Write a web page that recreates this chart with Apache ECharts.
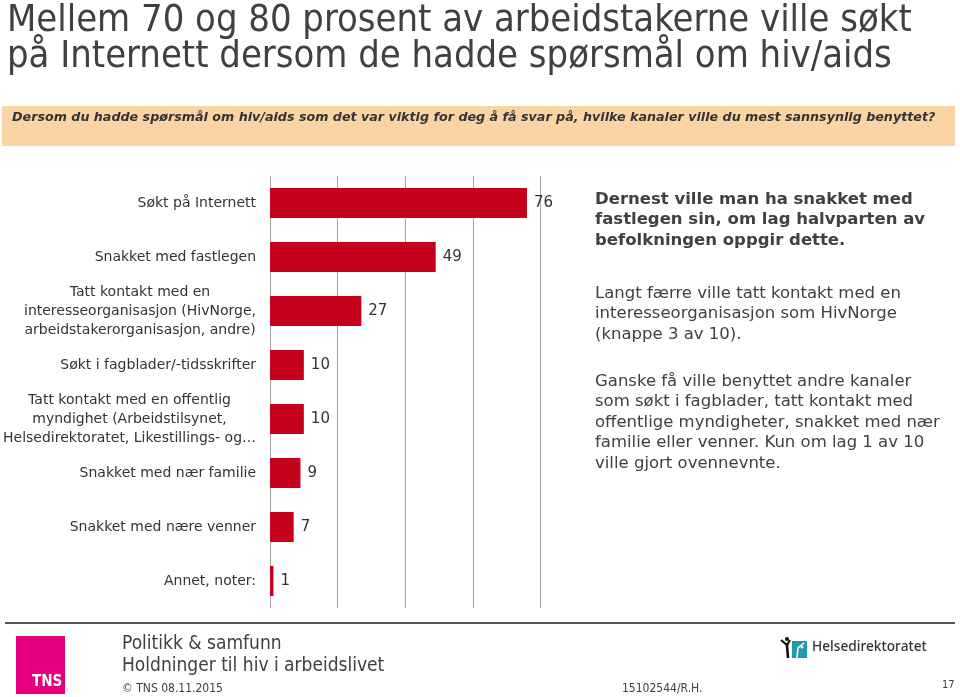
<!DOCTYPE html>
<html><head><meta charset="utf-8">
<script src="https://cdn.jsdelivr.net/npm/echarts@6/dist/echarts.min.js"></script>
<style>html,body{margin:0;padding:0;background:#fff}#c{width:960px;height:697px}</style>
</head><body><div id="c"></div>
<script>
var titleLines = ['Mellem 70 og 80 prosent av arbeidstakerne ville søkt', 'på Internett dersom de hadde spørsmål om hiv/aids'];
var question = 'Dersom du hadde spørsmål om hiv/aids som det var viktig for deg å få svar på, hvilke kanaler ville du mest sannsynlig benyttet?';
var categories = [
  'Søkt på Internett',
  'Snakket med fastlegen',
  'Tatt kontakt med en\ninteresseorganisasjon (HivNorge,\narbeidstakerorganisasjon, andre)',
  'Søkt i fagblader/-tidsskrifter',
  'Tatt kontakt med en offentlig\nmyndighet (Arbeidstilsynet,\nHelsedirektoratet, Likestillings- og…',
  'Snakket med nær familie',
  'Snakket med nære venner',
  'Annet, noter:'
];
var values = [76, 49, 27, 10, 10, 9, 7, 1];
var xTicks = [0, 20, 40, 60, 80];
var para1 = ['Dernest ville man ha snakket med', 'fastlegen sin, om lag halvparten av', 'befolkningen oppgir dette.'];
var para2 = ['Langt færre ville tatt kontakt med en', 'interesseorganisasjon som HivNorge', '(knappe 3 av 10).'];
var para3 = ['Ganske få ville benyttet andre kanaler', 'som søkt i fagblader, tatt kontakt med', 'offentlige myndigheter, snakket med nær', 'familie eller venner. Kun om lag 1 av 10', 'ville gjort ovennevnte.'];
var footer1 = 'Politikk & samfunn';
var footer2 = 'Holdninger til hiv i arbeidslivet';
var footerDate = '© TNS 08.11.2015';
var footerRef = '15102544/R.H.';
var pageNo = '17';
var logoText = 'Helsedirektoratet';

var F = '"DejaVu Sans", Verdana, sans-serif';
var FC = '"DejaVu Sans Condensed", "DejaVu Sans", sans-serif';

function textLines(lines, x, y0, dy, style) {
  return lines.map(function (t, i) {
    return { type: 'text', left: x, top: y0 + i * dy, style: Object.assign({ text: t, fill: '#404040' }, style) };
  });
}

var graphics = [];
graphics = graphics.concat(textLines(titleLines, 7, 2, 36.5, { font: '37.8px ' + FC, fill: '#404040' }));
graphics.push({ type: 'rect', shape: { x: 2, y: 106, width: 953, height: 40 }, style: { fill: '#FBD4A6' } });
graphics.push({ type: 'text', left: 12, top: 111, style: { text: question, font: 'italic bold 12.7px ' + F, fill: '#333' } });
graphics = graphics.concat(textLines(para1, 595, 191, 20.5, { font: 'bold 16.5px ' + F }));
graphics = graphics.concat(textLines(para2, 595, 285, 20.5, { font: '16.5px ' + F }));
graphics = graphics.concat(textLines(para3, 595, 373, 20.5, { font: '16.5px ' + F }));
graphics.push({ type: 'rect', shape: { x: 5, y: 622, width: 950, height: 2 }, style: { fill: '#555' } });
graphics.push({ type: 'rect', shape: { x: 16, y: 636, width: 49, height: 58 }, style: { fill: '#E5007E' } });
graphics.push({ type: 'text', left: 32, top: 675, style: { text: 'TNS', font: 'bold 15px ' + FC, fill: '#fff' } });
graphics.push({ type: 'text', left: 122, top: 635, style: { text: footer1, font: '19px ' + FC, fill: '#404040' } });
graphics.push({ type: 'text', left: 122, top: 657, style: { text: footer2, font: '19px ' + FC, fill: '#404040' } });
graphics.push({ type: 'text', left: 122, top: 683, style: { text: footerDate, font: '12px ' + FC, fill: '#404040' } });
graphics.push({ type: 'text', left: 622, top: 683, style: { text: footerRef, font: '12px ' + FC, fill: '#404040' } });
graphics.push({ type: 'text', left: 942, top: 680, style: { text: pageNo, font: '11px ' + FC, fill: '#404040' } });
// Helsedirektoratet logo
graphics.push({ type: 'rect', shape: { x: 792, y: 641, width: 15, height: 17 }, style: { fill: '#1C9BA8' } });
graphics.push({ type: 'polyline', shape: { points: [[781, 640], [787, 645], [790, 640]] }, style: { stroke: '#111', lineWidth: 2.2, fill: null } });
graphics.push({ type: 'polyline', shape: { points: [[787, 645], [788, 658]] }, style: { stroke: '#111', lineWidth: 2.6, fill: null } });
graphics.push({ type: 'circle', shape: { cx: 787, cy: 639, r: 2 }, style: { fill: '#111' } });
graphics.push({ type: 'polyline', shape: { points: [[797, 658], [798, 648], [804, 643]] }, style: { stroke: '#fff', lineWidth: 1.6, fill: null } });
graphics.push({ type: 'circle', shape: { cx: 802, cy: 647, r: 1.5 }, style: { fill: '#fff' } });
graphics.push({ type: 'text', left: 812, top: 640, style: { text: logoText, font: '500 13.7px "Noto Sans", "Open Sans", sans-serif', fill: '#333' } });

var chart = echarts.init(document.getElementById('c'), null, { renderer: 'canvas' });
chart.setOption({
  animation: false,
  grid: { left: 264.5, right: 419.5, top: 176, bottom: 89, containLabel: false },
  xAxis: {
    type: 'value', min: xTicks[0], max: xTicks[xTicks.length - 1], interval: 20,
    axisLabel: { show: false }, axisLine: { show: false }, axisTick: { show: false },
    splitLine: { show: true, lineStyle: { color: '#a6a6a6', width: 1 } }
  },
  yAxis: {
    type: 'category', data: categories, inverse: true,
    axisLine: { show: false }, axisTick: { show: false },
    axisLabel: {
      margin: 14, align: 'right',
      formatter: function (v) { return v.split('\n').map(function (l) { return '{c|' + l + '}'; }).join('\n'); },
      rich: { c: { align: 'center', fontFamily: F, fontSize: 14, color: '#333', lineHeight: 19 } }
    }
  },
  series: [{
    type: 'bar', data: values, barWidth: 30,
    itemStyle: { color: '#C5001A' },
    label: { show: true, position: 'right', distance: 7, fontFamily: F, fontSize: 15, color: '#333' }
  }],
  graphic: graphics
});
</script></body></html>
